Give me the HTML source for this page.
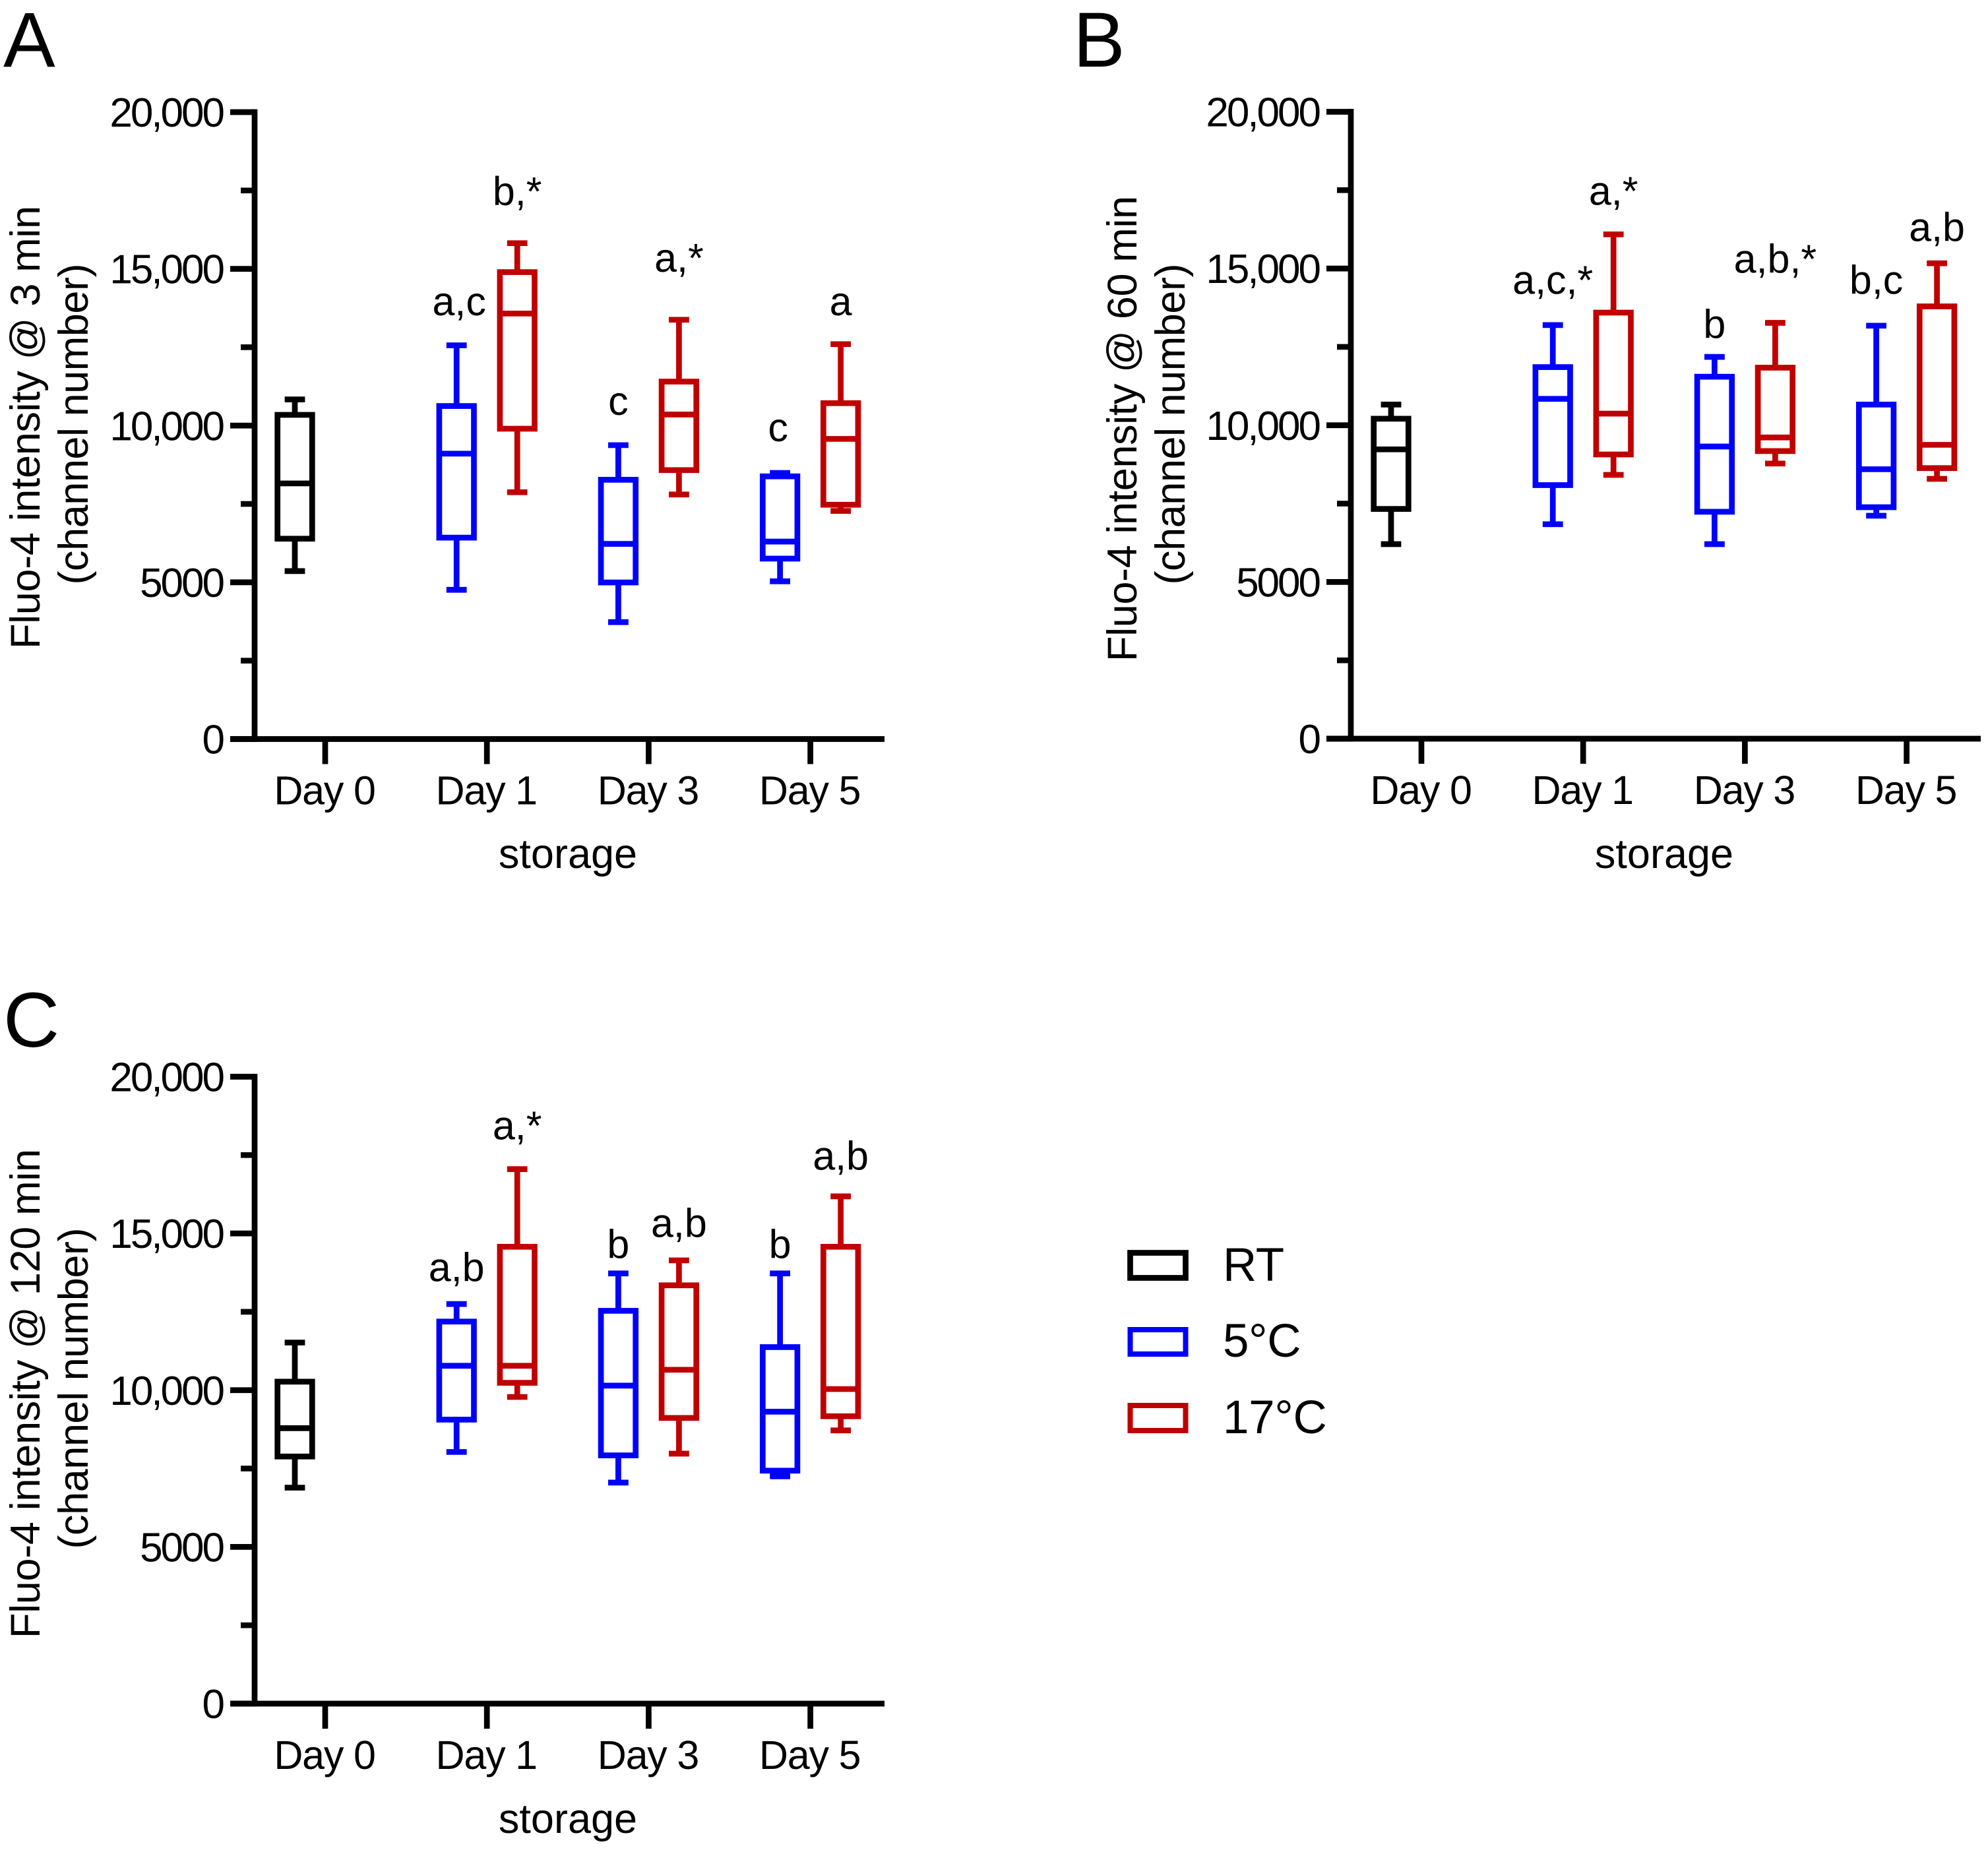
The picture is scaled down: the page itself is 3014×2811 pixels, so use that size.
<!DOCTYPE html>
<html lang="en">
<head>
<meta charset="utf-8">
<title>Fluo-4 intensity box plots</title>
<style>
html,body{margin:0;padding:0;background:#fff}
svg{display:block}
text{font-family:"Liberation Sans",Arial,sans-serif;fill:#000}
.tick{font-size:62px;letter-spacing:-3px}
.day{font-size:61px;letter-spacing:-1.2px}
.sig{font-size:61px}
.ttl{font-size:63px}
.xttl{font-size:63px}
.letter{font-size:118px}
.leg{font-size:71px;letter-spacing:-.3px}
</style>
</head>
<body>
<svg id="fig" xmlns="http://www.w3.org/2000/svg" width="3014" height="2811" viewBox="0 0 3014 2811">
  <rect width="3014" height="2811" fill="#fff"/>
  <text class="letter" x="5" y="101">A</text>
  <text class="letter" x="1627" y="101">B</text>
  <text class="letter" x="5" y="1587">C</text>

  <text class="ttl" text-anchor="middle" textLength="672" transform="translate(60 648) rotate(-90)">Fluo-4 intensity @ 3 min</text>
  <text class="ttl" text-anchor="middle" textLength="487" transform="translate(133 643) rotate(-90)">(channel number)</text>
  <text class="ttl" text-anchor="middle" textLength="706" transform="translate(1723 650) rotate(-90)">Fluo-4 intensity @ 60 min</text>
  <text class="ttl" text-anchor="middle" textLength="487" transform="translate(1796 643) rotate(-90)">(channel number)</text>
  <text class="ttl" text-anchor="middle" textLength="742" transform="translate(60 2113) rotate(-90)">Fluo-4 intensity @ 120 min</text>
  <text class="ttl" text-anchor="middle" textLength="487" transform="translate(133 2105) rotate(-90)">(channel number)</text>

  <text class="xttl" text-anchor="middle" x="861" y="1316">storage</text>
  <text class="xttl" text-anchor="middle" x="2523" y="1316">storage</text>
  <text class="xttl" text-anchor="middle" x="861" y="2779">storage</text>

  <g id="legend">
    <rect x="1713.5" y="1899.5" width="84" height="38" fill="none" stroke="#000" stroke-width="8.7"/>
    <text class="leg" x="1854" y="1942">RT</text>
    <rect x="1713.5" y="2016" width="84" height="37" fill="none" stroke="#0000ff" stroke-width="8"/>
    <text class="leg" x="1854" y="2057">5°C</text>
    <rect x="1713.5" y="2131" width="84" height="38" fill="none" stroke="#c00000" stroke-width="8"/>
    <text class="leg" x="1854" y="2173">17°C</text>
  </g>
</svg>
<script>
// Shared axis labels
const categories = ['Day 0', 'Day 1', 'Day 3', 'Day 5'];
const yTicks = [0, 5000, 10000, 15000, 20000];
const yTickLabels = ['0', '5000', '10,000', '15,000', '20,000'];
const yMinorTicks = [2500, 7500, 12500, 17500];

// Each box: [low whisker, Q1, median, Q3, high whisker]
const a_rt_day0 = [5357, 6391, 8155, 10342, 10834];
const a_5c = [[4760, 6425, 9104, 10624, 12561], [3729, 4995, 6226, 8271, 9375], [5032, 5756, 6299, 8380, 8489]];
const a_17c = [[7873, 9900, 13575, 14896, 15819], [7801, 8579, 10353, 11403, 13376], [7276, 7475, 9575, 10715, 12597]];

const b_rt_day0 = [6208, 7330, 9231, 10208, 10660];
const b_5c = [[6842, 8090, 10842, 11855, 13195], [6208, 7240, 9321, 11548, 12181], [7113, 7385, 8597, 10660, 13176]];
const b_17c = [[8416, 9068, 10371, 13593, 16090], [8778, 9176, 9611, 11837, 13267], [8290, 8633, 9375, 13792, 15167]];

const c_rt_day0 = [6890, 7884, 8788, 10271, 11519];
const c_5c = [[8029, 9060, 10778, 12188, 12749], [7052, 7920, 10145, 12532, 13725], [7251, 7432, 9313, 11374, 13725]];
const c_17c = [[9783, 10235, 10778, 14575, 17052], [7975, 9114, 10651, 13345, 14141], [8716, 9168, 10036, 14575, 16184]];

// Significance letters: text and the value height of their baseline
const a_sig_5c = ['a,c', 'c', 'c'];
const a_sig_5c_at = [13520, 10342, 9500];
const a_sig_17c = ['b,*', 'a,*', 'a'];
const a_sig_17c_at = [17035, 14910, 13520];
const b_sig_5c = ['a,c,*', 'b', 'b,c'];
const b_sig_5c_at = [14194, 12784, 14194];
const b_sig_17c = ['a,*', 'a,b,*', 'a,b'];
const b_sig_17c_at = [17035, 14867, 15878];
const c_sig_5c = ['a,b', 'b', 'b'];
const c_sig_5c_at = [13480, 14216, 14216];
const c_sig_17c = ['a,*', 'a,b', 'a,b'];
const c_sig_17c_at = [18002, 14890, 17035];

const SVGNS = 'http://www.w3.org/2000/svg';
const fig = document.getElementById('fig');
const BLACK = '#000000', BLUE = '#0000ff', RED = '#c00000';
const SW = 8.7;

function mk(parent, tag, attrs, txt) {
  const n = document.createElementNS(SVGNS, tag);
  for (const k in attrs) n.setAttribute(k, attrs[k]);
  if (txt !== undefined) n.textContent = txt;
  parent.appendChild(n);
  return n;
}

function line(parent, x1, y1, x2, y2, color, name) {
  const n = mk(parent, 'line', {x1: x1, y1: y1, x2: x2, y2: y2, stroke: color, 'stroke-width': SW});
  
  
  return n;
}

function box(parent, cx, vals, y, color, name) {
  const g = mk(parent, 'g', {});
  
  
  const low = y(vals[0]), q1 = y(vals[1]), med = y(vals[2]), q3 = y(vals[3]), high = y(vals[4]);
  const halfBox = 26.3, halfCap = 15.4;
  line(g, cx, high, cx, q3, color, 'whisker-high');
  line(g, cx, q1, cx, low, color, 'whisker-low');
  line(g, cx - halfCap, high, cx + halfCap, high, color, 'cap-high');
  line(g, cx - halfCap, low, cx + halfCap, low, color, 'cap-low');
  const r = mk(g, 'rect', {x: cx - halfBox, y: q3, width: halfBox * 2, height: q1 - q3, fill: 'none', stroke: color, 'stroke-width': SW});
  
  
  line(g, cx - halfBox, med, cx + halfBox, med, color, 'median');
}

function panel(id, axisX, y0, rtBox, fiveC, seventeenC, sig5, sig5At, sig17, sig17At) {
  const g = mk(fig, 'g', {});
  
  

  const pxPerUnit = 950.5 / 20000;
  const y = v => y0 - v * pxPerUnit;
  const tickStep = 245.2;
  const x = i => axisX + 107 + i * tickStep;
  const groupOffset = 46;

  // y axis
  line(g, axisX, y(20000) - SW / 2, axisX, y0 + SW / 2, BLACK, 'y-axis');
  yTicks.forEach((v, i) => {
    line(g, axisX - 37, y(v), axisX, y(v), BLACK, 'y-major-tick');
    const t = mk(g, 'text', {class: 'tick', x: axisX - 48, y: y(v) + 22, 'text-anchor': 'end'}, yTickLabels[i]);
    
    
  });
  yMinorTicks.forEach(v => {
    line(g, axisX - 21, y(v), axisX, y(v), BLACK, 'y-minor-tick');
  });

  // x axis
  line(g, axisX - 37, y0, axisX + 955, y0, BLACK, 'x-axis');
  categories.forEach((c, i) => {
    line(g, x(i), y0, x(i), y0 + 38, BLACK, 'x-tick');
    const t = mk(g, 'text', {class: 'day', x: x(i) - 1, y: y0 + 99, 'text-anchor': 'middle'}, c);
    
    
  });

  // boxes
  box(g, x(0) - groupOffset, rtBox, y, BLACK, 'box-rt-day-0');
  fiveC.forEach((vals, i) => {
    box(g, x(i + 1) - groupOffset, vals, y, BLUE, 'box-5c-' + categories[i + 1].toLowerCase().replace(' ', '-'));
  });
  seventeenC.forEach((vals, i) => {
    box(g, x(i + 1) + groupOffset, vals, y, RED, 'box-17c-' + categories[i + 1].toLowerCase().replace(' ', '-'));
  });

  // significance letters
  sig5.forEach((s, i) => {
    const nudge = id === 'a' ? (i === 0 ? 4 : i === 2 ? -3 : 0) : 0;
    const t = mk(g, 'text', {class: 'sig', x: x(i + 1) - groupOffset + nudge, y: y(sig5At[i]), 'text-anchor': 'middle'}, s);
    
    
  });
  sig17.forEach((s, i) => {
    const t = mk(g, 'text', {class: 'sig', x: x(i + 1) + groupOffset, y: y(sig17At[i]), 'text-anchor': 'middle'}, s);
    
    
  });
}

panel('a', 386, 1120.5, a_rt_day0, a_5c, a_17c, a_sig_5c, a_sig_5c_at, a_sig_17c, a_sig_17c_at);
panel('b', 2048, 1120, b_rt_day0, b_5c, b_17c, b_sig_5c, b_sig_5c_at, b_sig_17c, b_sig_17c_at);
panel('c', 386, 2583, c_rt_day0, c_5c, c_17c, c_sig_5c, c_sig_5c_at, c_sig_17c, c_sig_17c_at);
</script>
</body>
</html>
